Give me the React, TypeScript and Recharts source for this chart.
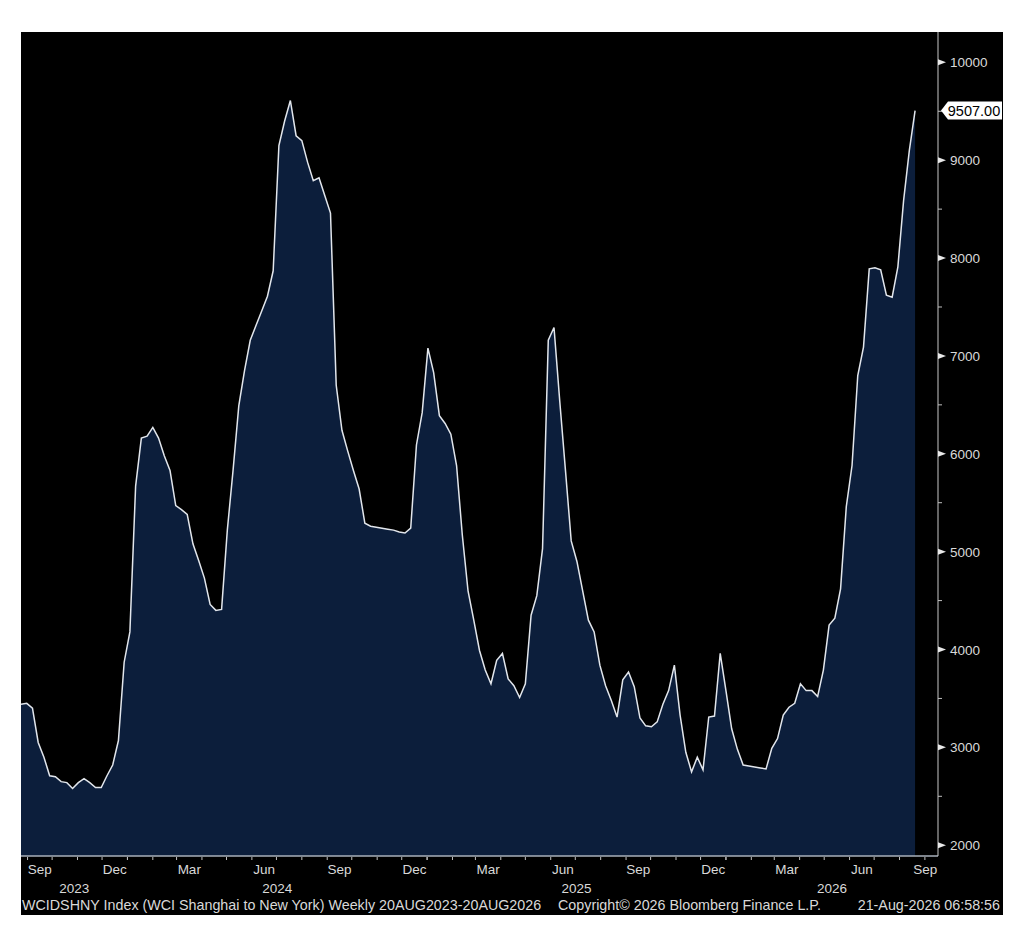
import React from "react";
import { AreaChart, Area, XAxis, YAxis } from "recharts";

// Weekly WCI Shanghai -> New York, 24 Aug 2023 .. 20 Aug 2026 (USD per 40ft)
const weeklyValues: number[] = [
  3440, 3450, 3400, 3050, 2900, 2710, 2700, 2650, 2640, 2580,
  2640, 2680, 2640, 2590, 2590, 2710, 2820, 3070, 3870, 4180,
  5670, 6160, 6180, 6270, 6160, 5980, 5830, 5470, 5430, 5380,
  5080, 4910, 4730, 4460, 4400, 4410, 5220, 5830, 6490, 6850,
  7160, 7310, 7460, 7610, 7870, 9150, 9400, 9610, 9250, 9200,
  8980, 8790, 8820, 8640, 8460, 6700, 6240, 6030, 5830, 5640,
  5290, 5260, 5250, 5240, 5230, 5220, 5200, 5190, 5240, 6090,
  6420, 7080, 6830, 6390, 6310, 6200, 5880, 5170, 4600, 4300,
  3990, 3790, 3650, 3890, 3960, 3700, 3630, 3510, 3650, 4350,
  4550, 5030, 7160, 7290, 6540, 5830, 5110, 4900, 4600, 4300,
  4180, 3840, 3630, 3480, 3310, 3690, 3770, 3620, 3300, 3220,
  3210, 3260, 3440, 3580, 3840, 3330, 2950, 2750, 2900, 2770,
  3310, 3320, 3960, 3580, 3190, 2980, 2820, 2810, 2800, 2790,
  2780, 2990, 3090, 3330, 3410, 3450, 3650, 3580, 3580, 3520,
  3790, 4250, 4320, 4620, 5460, 5880, 6800, 7090, 7890, 7900,
  7880, 7620, 7600, 7910, 8590, 9100, 9507,
];

const firstWeekUTC = Date.UTC(2023, 7, 24);
const lastLabel = "9507.00";
const monthNames = ["Jan", "Feb", "Mar", "Apr", "May", "Jun", "Jul", "Aug", "Sep", "Oct", "Nov", "Dec"];
const labelledMonths = [2, 5, 8, 11];
const monthTickStarts: [number, number][] = [];
for (let y = 2023, m = 8; y < 2026 || (y === 2026 && m <= 8); ) {
  monthTickStarts.push([y, m]);
  m++;
  if (m > 11) { m = 0; y++; }
}
const yearLabels = [2023, 2024, 2025, 2026];
const yMajorTicks = [2000, 3000, 4000, 5000, 6000, 7000, 8000, 9000, 10000];
const yMinorTicks = [2500, 3500, 4500, 5500, 6500, 7500, 8500, 9500];
const footerLeft = "WCIDSHNY Index (WCI Shanghai to New York) Weekly 20AUG2023-20AUG2026";
const footerMid = "Copyright\u00A9 2026 Bloomberg Finance L.P.";
const footerRight = "21-Aug-2026 06:58:56";

const X_MAX = 160;
const weekIndex = (y: number, m: number, d = 1) => (Date.UTC(y, m, d) - firstWeekUTC) / (7 * 86400000);

const data = weeklyValues.map((v, i) => ({ i, v }));
const lastValue = weeklyValues[weeklyValues.length - 1];

type TickInfo = { kind: "month" | "mlabel" | "sep" | "year"; text?: string; last?: boolean };
const xTickInfo: { value: number; info: TickInfo }[] = [];
monthTickStarts.forEach(([y, m]) => {
  const s = weekIndex(y, m);
  xTickInfo.push({ value: s, info: { kind: "month" } });
  if (labelledMonths.includes(m)) {
    const e = weekIndex(m === 11 ? y + 1 : y, (m + 1) % 12);
    const mid = Math.min((s + e) / 2, X_MAX);
    xTickInfo.push({ value: mid, info: { kind: "mlabel", text: monthNames[m], last: (s + e) / 2 > X_MAX - 1 } });
  }
});
yearLabels.forEach((yr) => {
  const s = Math.max(weekIndex(yr, 0), 0);
  const e = Math.min(weekIndex(yr + 1, 0), X_MAX);
  if (yr > 2023) xTickInfo.push({ value: s, info: { kind: "sep" } });
  xTickInfo.push({ value: (s + e) / 2, info: { kind: "year", text: String(yr) } });
});
xTickInfo.sort((a, b) => a.value - b.value);
const xTicks = xTickInfo.map((t) => t.value);

const FONT = "'Liberation Sans', Arial, sans-serif";
const TXT = "#d9d9d9";

const XTick = (props: any) => {
  const { x, y, payload } = props;
  const t = xTickInfo.find((q) => Math.abs(q.value - payload.value) < 1e-9);
  if (!t) return null;
  const k = t.info;
  if (k.kind === "month") return <line x1={x} x2={x} y1={y + 1} y2={y + 4} stroke="#bfbfbf" strokeWidth={1} />;
  if (k.kind === "sep") return <line x1={x - 4} x2={x - 4} y1={y + 22} y2={y + 40} stroke="#9a9a9a" strokeWidth={1} />;
  if (k.kind === "mlabel")
    return (
      <text x={x} y={y + 18} textAnchor={k.last ? "end" : "middle"} fill={TXT} fontSize={13.5} fontFamily={FONT}>
        {k.text}
      </text>
    );
  return (
    <text x={x} y={y + 37} textAnchor="middle" fill={TXT} fontSize={13.5} fontFamily={FONT}>
      {k.text}
    </text>
  );
};

const yTicks = [...yMinorTicks, ...yMajorTicks, lastValue];

const YTick = (props: any) => {
  const { x, y, payload } = props;
  const v = payload.value;
  if (v === lastValue) {
    return (
      <g>
        <path d={`M${x + 3},${y} L${x + 10},${y - 9} L${x + 64},${y - 9} L${x + 64},${y + 9} L${x + 10},${y + 9} Z`} fill="#ffffff" />
        <text x={x + 36} y={y + 5} textAnchor="middle" fill="#000" fontSize={14.5} fontFamily={FONT}>
          {lastLabel}
        </text>
      </g>
    );
  }
  if (yMajorTicks.includes(v)) {
    return (
      <g>
        <path d={`M${x},${y - 3} L${x + 8},${y} L${x},${y + 3} Z`} fill="#e8e8e8" />
        <text x={x + 12} y={y + 5} textAnchor="start" fill={TXT} fontSize={13.5} fontFamily={FONT}>
          {v}
        </text>
      </g>
    );
  }
  return <line x1={x} x2={x + 4} y1={y} y2={y} stroke="#bfbfbf" strokeWidth={1} />;
};

const footerStyle: React.CSSProperties = {
  position: "absolute",
  top: 897,
  fontFamily: FONT,
  fontSize: 14.3,
  color: TXT,
  whiteSpace: "nowrap",
};

export default function App() {
  return (
    <div style={{ position: "absolute", left: 0, top: 0, width: 1024, height: 939, background: "#ffffff" }}>
      <div style={{ position: "absolute", left: 21, top: 32, width: 982, height: 883, background: "#000000" }} />
      <div style={{ position: "absolute", left: 0, top: 0 }}>
        <AreaChart width={1024} height={939} data={data} margin={{ top: 32, right: 21, bottom: 23, left: 21 }}>
          <XAxis
            dataKey="i"
            type="number"
            domain={[0, X_MAX]}
            ticks={xTicks}
            interval={0}
            tickLine={false}
            tickSize={0}
            tickMargin={0}
            height={60}
            axisLine={{ stroke: "#a9b0bb", strokeWidth: 1.5 }}
            tick={<XTick />}
            allowDataOverflow
          />
          <YAxis
            orientation="right"
            type="number"
            domain={[1890, 10310]}
            ticks={yTicks}
            interval={0}
            tickLine={false}
            tickSize={0}
            tickMargin={0}
            width={65}
            axisLine={{ stroke: "#c8c8c8", strokeWidth: 1 }}
            tick={<YTick />}
            allowDataOverflow
          />
          <Area
            type="linear"
            dataKey="v"
            stroke="#e2e6ec"
            strokeWidth={1.5}
            fill="#0c1e3b"
            fillOpacity={1}
            isAnimationActive={false}
            dot={false}
            activeDot={false}
          />
        </AreaChart>
      </div>
      <div style={{ ...footerStyle, left: 22 }}>{footerLeft}</div>
      <div style={{ ...footerStyle, left: 558 }}>{footerMid}</div>
      <div style={{ ...footerStyle, right: 24 }}>{footerRight}</div>
    </div>
  );
}
